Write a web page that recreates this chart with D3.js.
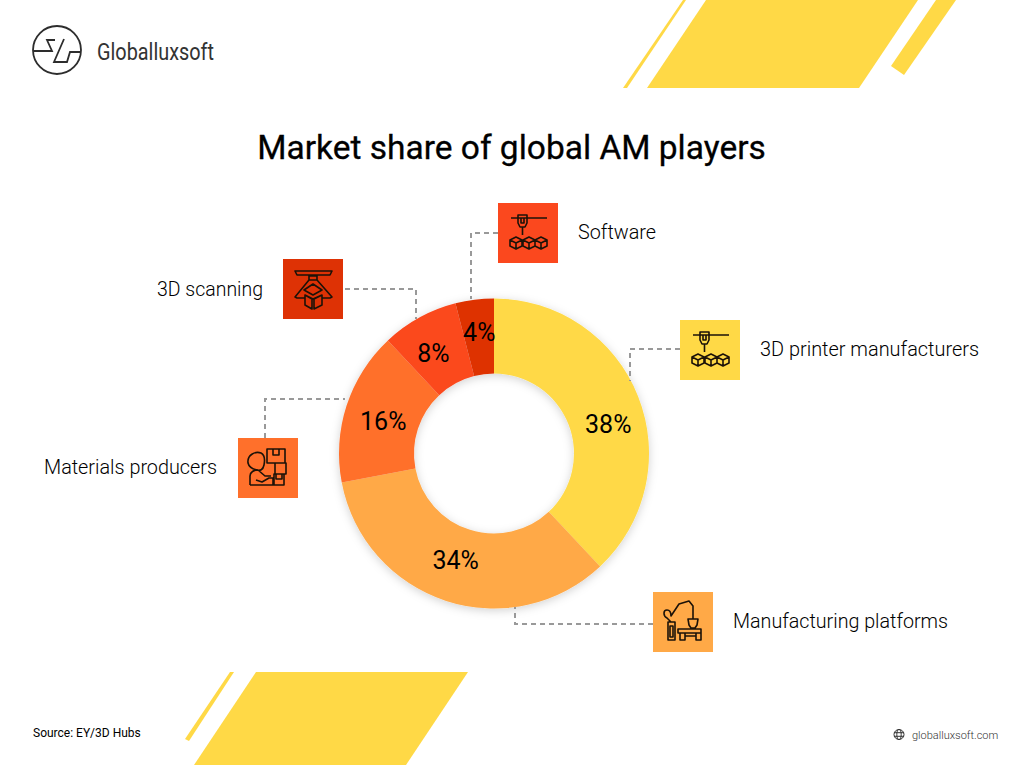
<!DOCTYPE html>
<html>
<head>
<meta charset="utf-8">
<script src="https://cdn.jsdelivr.net/npm/d3@7"></script>
<style>
  html, body { margin: 0; padding: 0; background: #fff; }
  svg { display: block; }
  text { font-family: Roboto, sans-serif; fill: #000; }
</style>
</head>
<body>
<div id="chart"></div>
<script>
// Data
const categories = ["3D printer manufacturers", "Manufacturing platforms", "Materials producers", "3D scanning", "Software"];
const shares = [38, 34, 16, 8, 4];
const colors = ["#ffd946", "#ffa947", "#ff702b", "#fb481e", "#de3205"];
const iconColors = ["#ffd946", "#ffa947", "#ff702b", "#de3205", "#fb481e"];

const width = 1024, height = 765;
const cx = 494, cy = 453.5, outer = 155, inner = 80;

const svg = d3.select("#chart").append("svg")
  .attr("width", width)
  .attr("height", height)
  .attr("viewBox", [0, 0, width, height]);

const defs = svg.append("defs");
const shadow = defs.append("filter").attr("id", "shadow")
  .attr("x", "-20%").attr("y", "-20%").attr("width", "140%").attr("height", "140%");
shadow.append("feDropShadow")
  .attr("dx", 0).attr("dy", 2).attr("stdDeviation", 5)
  .attr("flood-color", "#000").attr("flood-opacity", 0.18);

// Background stripes
const stripes = [
  [[683, 0], [686, 0], [627, 88], [623, 88]],
  [[706, 0], [918, 0], [859, 88], [647, 88]],
  [[936, 0], [956, 0], [904, 75], [891, 66]],
  [[230, 672], [234, 672], [189, 741], [185, 739]],
  [[256, 672], [468, 672], [406, 765], [194, 765]]
];
svg.append("g").selectAll("path")
  .data(stripes)
  .join("path")
  .attr("d", d => d3.line()(d) + "Z")
  .attr("fill", "#ffd946");

// Logo
const logo = svg.append("g").attr("fill", "none").attr("stroke", "#2d2d2d").attr("stroke-width", 1.8);
logo.append("circle").attr("cx", 57).attr("cy", 50).attr("r", 24);
logo.append("path").attr("d", "M33 51H52L47 40H55M64 39L54 62H67L70 52H81");
svg.append("text")
  .attr("x", 97).attr("y", 60)
  .attr("textLength", 117)
  .attr("lengthAdjust", "spacingAndGlyphs")
  .style("font-size", "24.5px")
  .style("fill", "#333")
  .text("Globalluxsoft");

// Title
svg.append("text")
  .attr("x", 511.5).attr("y", 159)
  .attr("text-anchor", "middle")
  .style("font-size", "33.5px")
  .style("stroke", "#000")
  .style("stroke-width", 0.3)
  .text("Market share of global AM players");

// Donut
const pie = d3.pie().sort(null)(shares);
const arc = d3.arc().innerRadius(inner).outerRadius(outer);

const donut = svg.append("g").attr("transform", `translate(${cx},${cy})`);
donut.append("g").attr("filter", "url(#shadow)")
  .selectAll("path")
  .data(pie)
  .join("path")
  .attr("d", arc)
  .attr("fill", (d, i) => colors[i]);

// hand placed in the original, offsets from the arc centroid
const labelShift = [[5, 14], [-2, -5], [1, 4], [-4, 2], [0, -5]];
donut.append("g")
  .selectAll("text")
  .data(pie)
  .join("text")
  .attr("x", (d, i) => arc.centroid(d)[0] + labelShift[i][0])
  .attr("y", (d, i) => arc.centroid(d)[1] + labelShift[i][1] + 9)
  .attr("text-anchor", "middle")
  .style("font-size", "25px")
  .text((d, i) => shares[i] + "%");

// Leader lines
const leaders = [
  [[680, 349], [630, 349], [630, 381]],
  [[653, 624], [515, 624], [515, 607]],
  [[265, 438], [265, 399], [345, 399]],
  [[345, 289], [416, 289], [416, 319]],
  [[498, 233], [471, 233], [471, 299]]
];
svg.append("g").selectAll("path")
  .data(leaders)
  .join("path")
  .attr("d", d3.line())
  .attr("fill", "none")
  .attr("stroke", "#999")
  .attr("stroke-width", 2)
  .attr("stroke-dasharray", "5 4");

// Icon boxes and labels
const boxes = [[680, 320], [653, 592], [238, 438], [283, 259], [498, 203]];
const labelPos = [[760, 356, 219], [733, 628, 215], [44, 474, 173], [157, 296, 106], [578, 239, 78]];

function cube(x, y) {
  return `M${x} ${y - 6}L${x + 6} ${y - 3}V${y + 3}L${x} ${y + 6}L${x - 6} ${y + 3}V${y - 3}ZM${x - 6} ${y - 3}L${x} ${y}L${x + 6} ${y - 3}M${x} ${y}V${y + 6}`;
}
const printer = "M13 15H49M20 12H29V20L27 24H22L20 20ZM23 15H26V20H23ZM24.5 24V32" +
  cube(18, 40) + cube(31, 40) + cube(43, 40);
const iconPaths = [
  printer,
  "M15 30H22V48H15ZM17 34H20V45H17ZM18 30L14 26C10 24 10 18 14 18C17 18 18 21 18 24L26 12L36 9L40 14V27M35 27H45L44 33L42 36H38L36 33ZM25 37H48V41H25ZM27 41H32V48H27ZM43 41H48V48H43ZM32 44H43",
  "M29 11H47V25H29ZM35 11V17H41V11M37 25H48V36H37ZM36 36H46V47H36ZM38 36V41H44V36M12 47V38C12 34 16 32 20 32L27 38L33 38M10 25C9 17 17 13 23 15C27 17 27 22 26 27C25 32 22 33 19 32C14 31 11 29 10 25ZM12 47H35V40H31L24 44L18 42",
  "M12 12H49L47 16H14ZM26 17H34V21H26ZM26 21L12 38L14 39H22M34 21L49 38L47 39H39M30 25L39 31L30 36L21 31ZM22 36V46L29 50V40ZM39 36V46L31 50V40ZM22 36L30 40L39 36",
  printer
];

const icons = svg.append("g").selectAll("g")
  .data(boxes)
  .join("g")
  .attr("transform", d => `translate(${d[0]},${d[1]})`);
icons.append("rect")
  .attr("width", 60).attr("height", 60)
  .attr("fill", (d, i) => iconColors[i]);
icons.append("path")
  .attr("d", (d, i) => iconPaths[i])
  .attr("fill", "none")
  .attr("stroke", "#1c1208")
  .attr("stroke-width", 1.6)
  .attr("stroke-linejoin", "round");

svg.append("g").selectAll("text")
  .data(categories)
  .join("text")
  .attr("x", (d, i) => labelPos[i][0])
  .attr("y", (d, i) => labelPos[i][1])
  .attr("textLength", (d, i) => labelPos[i][2])
  .attr("lengthAdjust", "spacingAndGlyphs")
  .style("font-size", "19.8px")
  .style("font-weight", 300)
  .text(d => d);

// Footer
svg.append("text")
  .attr("x", 33).attr("y", 737)
  .style("font-size", "12px")
  .text("Source: EY/3D Hubs");

const globe = svg.append("g").attr("transform", "translate(899,734.5)")
  .attr("fill", "none").attr("stroke", "#333").attr("stroke-width", 1);
globe.append("circle").attr("r", 5);
globe.append("ellipse").attr("rx", 2.2).attr("ry", 5);
globe.append("path").attr("d", "M-5 -1.8H5M-5 1.8H5");

svg.append("text")
  .attr("x", 912).attr("y", 739)
  .style("font-size", "11px")
  .style("font-weight", 300)
  .style("fill", "#333")
  .text("globalluxsoft.com");
</script>
</body>
</html>
